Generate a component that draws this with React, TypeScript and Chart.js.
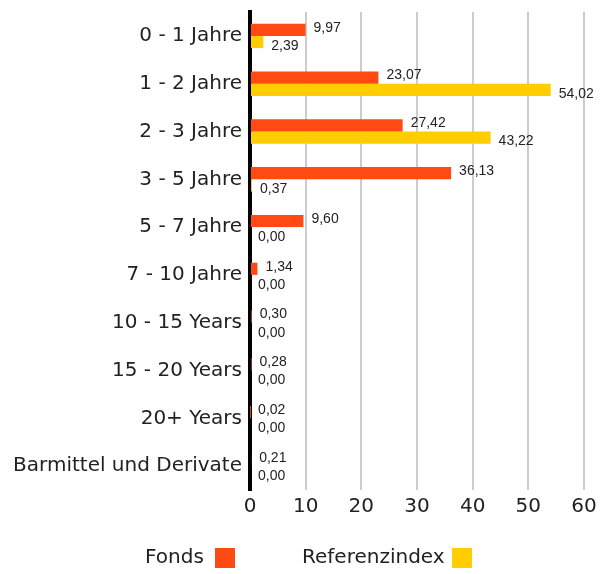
import React, { useEffect, useRef } from "react";
import { Chart, registerables } from "chart.js";

Chart.register(...registerables);

const categories = [
  "0 - 1 Jahre",
  "1 - 2 Jahre",
  "2 - 3 Jahre",
  "3 - 5 Jahre",
  "5 - 7 Jahre",
  "7 - 10 Jahre",
  "10 - 15 Years",
  "15 - 20 Years",
  "20+ Years",
  "Barmittel und Derivate",
];
const fonds = [9.97, 23.07, 27.42, 36.13, 9.6, 1.34, 0.3, 0.28, 0.02, 0.21];
const referenz = [2.39, 54.02, 43.22, 0.37, 0, 0, 0, 0, 0, 0];
const seriesNames = ["Fonds", "Referenzindex"];
const colors = ["#FF4A14", "#FFCD00"];
const xTicks = [0, 10, 20, 30, 40, 50, 60];

const AXIS_FONT = "'DejaVu Sans', Verdana, sans-serif";
const LABEL_FONT = "'Liberation Sans', Arial, sans-serif";

const fmt = (v: number) => v.toFixed(2).replace(".", ",");

const labelPlugin = {
  id: "valueLabels",
  afterDatasetsDraw(chart: any) {
    const ctx = chart.ctx;
    ctx.save();
    ctx.font = `14px ${LABEL_FONT}`;
    ctx.fillStyle = "#222";
    ctx.textAlign = "left";
    ctx.textBaseline = "middle";
    chart.data.datasets.forEach((ds: any, di: number) => {
      const meta = chart.getDatasetMeta(di);
      meta.data.forEach((bar: any, i: number) => {
        const v = ds.data[i];
        const x = Math.max(bar.x, chart.chartArea.left) + 8;
        const y = bar.y + (di === 0 ? -2 : 4);
        ctx.fillText(fmt(v), x, y);
      });
    });
    ctx.restore();
  },
};

const legendPlugin = {
  id: "customLegend",
  afterDraw(chart: any) {
    const ctx = chart.ctx;
    ctx.save();
    ctx.font = `20px ${AXIS_FONT}`;
    ctx.textBaseline = "middle";
    ctx.textAlign = "left";
    const y = 558;
    const textStarts = [145, 302];
    const boxStarts = [215, 452];
    seriesNames.forEach((name, i) => {
      ctx.fillStyle = "#222";
      ctx.fillText(name, textStarts[i], y);
      ctx.fillStyle = colors[i];
      ctx.fillRect(boxStarts[i], y - 10, 20, 20);
    });
    ctx.restore();
  },
};

export default function App() {
  const ref = useRef<HTMLCanvasElement | null>(null);
  useEffect(() => {
    if (!ref.current) return;
    const chart = new Chart(ref.current, {
      type: "bar",
      data: {
        labels: categories,
        datasets: [
          {
            label: seriesNames[0],
            data: fonds,
            backgroundColor: colors[0],
            categoryPercentage: 0.51,
            barPercentage: 1,
          },
          {
            label: seriesNames[1],
            data: referenz,
            backgroundColor: colors[1],
            categoryPercentage: 0.51,
            barPercentage: 1,
          },
        ],
      },
      options: {
        indexAxis: "y",
        animation: false,
        responsive: false,
        maintainAspectRatio: false,
        layout: { padding: { top: 2, right: 24, bottom: 0, left: 0 } },
        plugins: {
          legend: { display: false },
          tooltip: { enabled: false },
        },
        scales: {
          x: {
            min: 0,
            max: 60,
            afterBuildTicks: (axis: any) => {
              axis.ticks = xTicks.map((v) => ({ value: v }));
            },
            afterFit: (axis: any) => {
              axis.height = 84;
            },
            grid: { color: "#cccccc", lineWidth: 2, drawTicks: false },
            border: { display: false },
            ticks: { color: "#222", font: { family: AXIS_FONT, size: 20 }, padding: 5 },
          },
          y: {
            z: 1,
            afterFit: (axis: any) => {
              axis.width = 250;
            },
            grid: { display: false },
            border: { display: true, color: "#000", width: 4 },
            ticks: { color: "#222", font: { family: AXIS_FONT, size: 20 }, padding: 0 },
          },
        },
      },
      plugins: [labelPlugin, legendPlugin],
    });
    return () => chart.destroy();
  }, []);
  return (
    <div style={{ position: "fixed", left: 0, top: 0, width: 608, height: 574, background: "#fff" }}>
      <canvas ref={ref} width={608} height={574} style={{ width: 608, height: 574 }} />
    </div>
  );
}
